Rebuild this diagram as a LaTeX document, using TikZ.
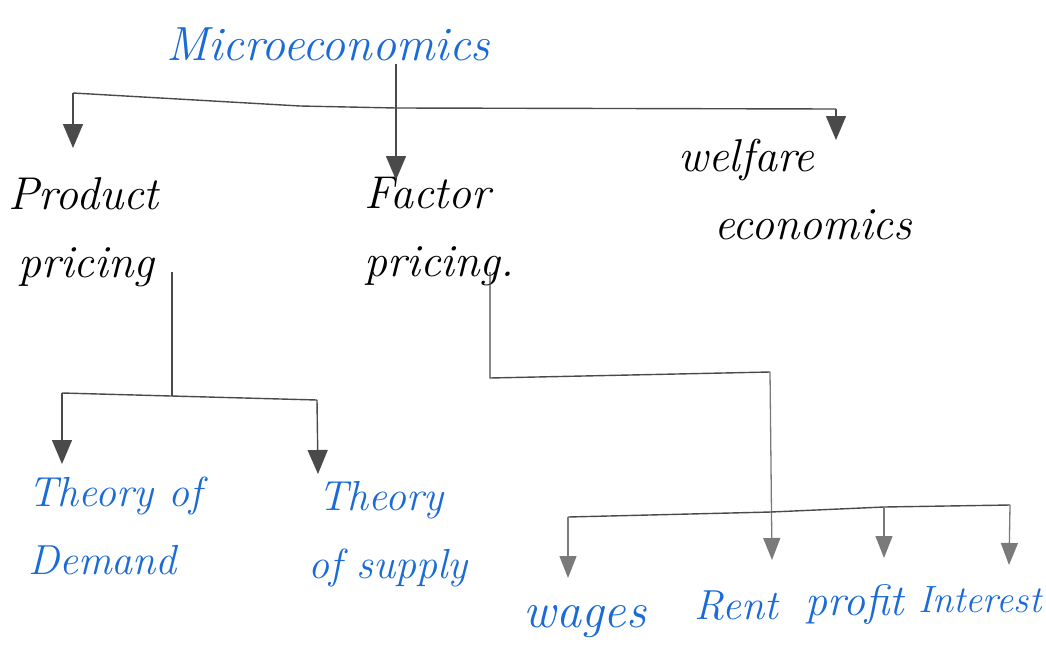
\documentclass[tikz,border=0pt]{standalone}
\usetikzlibrary{arrows.meta}
\definecolor{ink}{HTML}{1A6BD6}
\definecolor{pencil}{HTML}{4A4A4A}
\definecolor{pencillight}{HTML}{7A7A7A}
\begin{document}
\begin{tikzpicture}[x=1pt,y=-1pt,
  link/.style={draw=pencil, line width=1.4pt, line join=round},
  arr/.style={link, -{Triangle[length=24pt,width=20pt]}},
  arrlight/.style={draw=pencillight, line width=1.3pt, -{Triangle[length=22pt,width=17pt]}},
  hand/.style={font=\itshape\fontsize{#1}{68}\selectfont, align=left, inner sep=0pt},
  hand/.default=42,
  bluetxt/.style={hand=#1, text=ink},
  bluetxt/.default=42,
  blacktxt/.style={hand=#1, text=black},
  blacktxt/.default=46]
\useasboundingbox (0,0) rectangle (1046,659);

% text nodes
\node[bluetxt=48] (micro) at (328,44) {Microeconomics};
\node[blacktxt, anchor=west] (prod) at (8,232) {Product\\\hspace*{10pt}pricing};
\node[blacktxt, anchor=west] (fact) at (364,232) {Factor\\pricing.};
\node[blacktxt, anchor=west] (welf) at (678,190) {welfare\\\hspace*{36pt}economics};
\node[bluetxt, anchor=west] (demand) at (28,526) {Theory of\\Demand};
\node[bluetxt, anchor=west] (supply) at (308,534) {\hspace*{10pt}Theory\\of supply};
\node[bluetxt=50] (wages) at (585,622) {wages};
\node[bluetxt=42] (rent) at (736,606) {Rent};
\node[bluetxt=44] (profit) at (855,604) {profit};
\node[bluetxt=38, anchor=west] (interest) at (918,600) {Interest};

% junction coordinates
\coordinate (mtop) at (396,64);
\coordinate (mbar) at (396,108);
\coordinate (barL) at (73,93);
\coordinate (barR) at (836,109);
\coordinate (tipProd) at (73,148);
\coordinate (tipFact) at (396,180);
\coordinate (tipWelf) at (836,140);

\coordinate (pstem) at (172,272);
\coordinate (pbar) at (172,396);
\coordinate (pbarL) at (62,393);
\coordinate (pbarR) at (317,400);
\coordinate (tipDem) at (62,464);
\coordinate (tipSup) at (318,474);

\coordinate (fstem) at (490,272);
\coordinate (fcorner) at (490,378);
\coordinate (fcorner2) at (770,372);
\coordinate (fbar) at (771,512);
\coordinate (fbarL) at (568,517);
\coordinate (fbarR) at (1010,505);
\coordinate (profbar) at (884,507);
\coordinate (tipWag) at (568,578);
\coordinate (tipRent) at (772,560);
\coordinate (tipProf) at (884,558);
\coordinate (tipInt) at (1009,565);

% top level
\draw[arr] (mtop) -- (tipFact);
\draw[link] (barL) -- (300,106) -- (mbar) -- (barR);
\draw[arr] (barL) -- (tipProd);
\draw[arr] (barR) -- (tipWelf);

% product pricing branch
\draw[link] (pstem) -- (pbar);
\draw[link] (pbarL) -- (pbarR);
\draw[arr] (pbarL) -- (tipDem);
\draw[arr] (pbarR) -- (tipSup);

% factor pricing branch
\draw[link] (fstem) -- (fcorner) -- (fcorner2);
\draw[arrlight] (fcorner2) -- (tipRent);
\draw[link] (fbarL) -- (fbar) -- (profbar) -- (fbarR);
\draw[arrlight] (fbarL) -- (tipWag);
\draw[arrlight] (profbar) -- (tipProf);
\draw[arrlight] (fbarR) -- (tipInt);
\end{tikzpicture}
\end{document}
